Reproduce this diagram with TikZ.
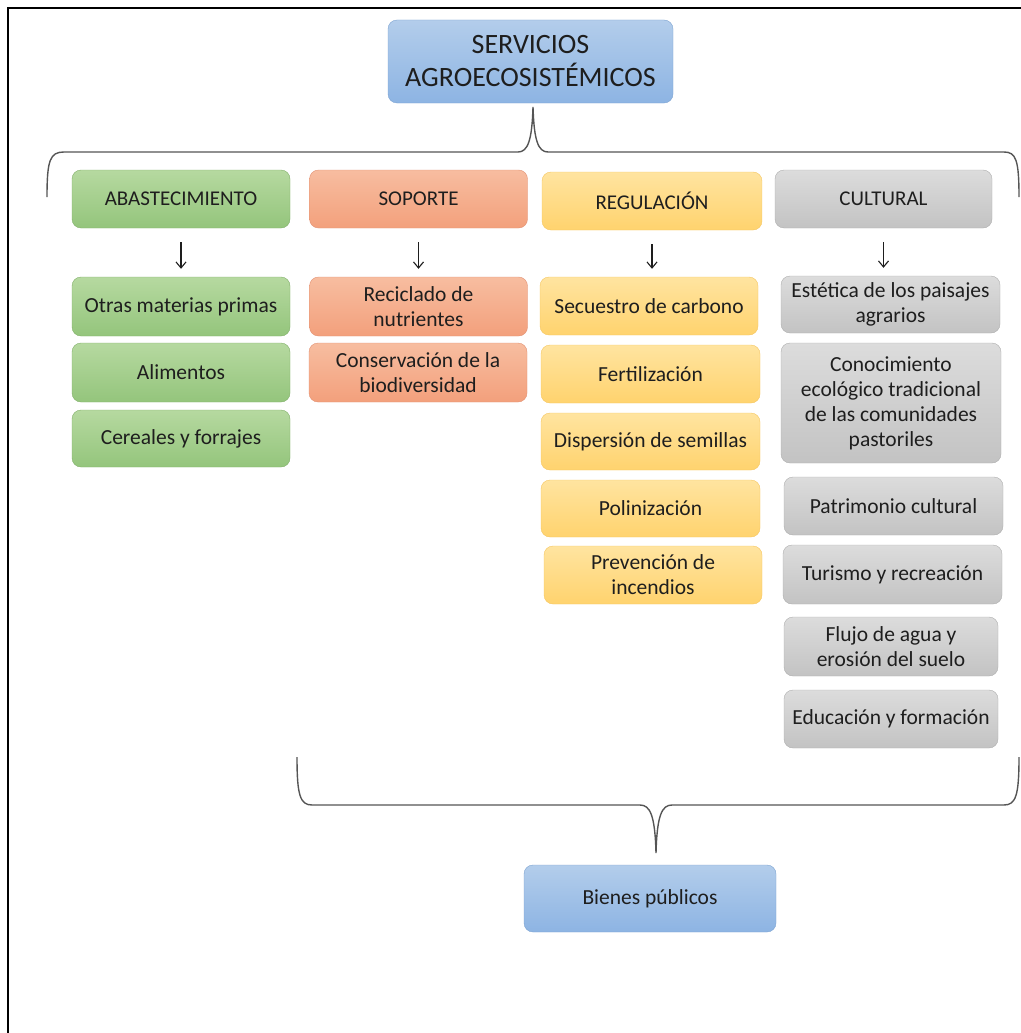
\documentclass[tikz,border=0pt]{standalone}
\usepackage{fontspec}
\setmainfont{Carlito}
\usetikzlibrary{arrows.meta}
\definecolor{azulA}{HTML}{B3CDEB}
\definecolor{azulB}{HTML}{8DB4E3}
\definecolor{azulC}{HTML}{7DA3D1}
\definecolor{verdeA}{HTML}{B6D9A0}
\definecolor{verdeB}{HTML}{94C57C}
\definecolor{verdeC}{HTML}{82B06A}
\definecolor{salmonA}{HTML}{F7BDA0}
\definecolor{salmonB}{HTML}{F3A07C}
\definecolor{salmonC}{HTML}{E29274}
\definecolor{naranjaA}{HTML}{FFE4A0}
\definecolor{naranjaB}{HTML}{FFD36E}
\definecolor{naranjaC}{HTML}{F5C661}
\definecolor{grisA}{HTML}{DCDCDC}
\definecolor{grisB}{HTML}{C3C3C3}
\definecolor{grisC}{HTML}{AEAEAE}
\definecolor{texto}{HTML}{1E1E1E}
\definecolor{llave}{HTML}{555555}
\tikzset{
    caja/.style={draw, rounded corners=9pt, inner sep=2pt, align=center,
        minimum width=218pt, minimum height=58pt, text=texto,
        font=\fontsize{21.5}{25}\selectfont},
    azul/.style={caja, top color=azulA, bottom color=azulB, draw=azulC},
    verde/.style={caja, top color=verdeA, bottom color=verdeB, draw=verdeC},
    salmon/.style={caja, top color=salmonA, bottom color=salmonB, draw=salmonC},
    naranja/.style={caja, top color=naranjaA, bottom color=naranjaB, draw=naranjaC},
    gris/.style={caja, top color=grisA, bottom color=grisB, draw=grisC},
    cabecera/.style={font=\fontsize{21}{25}\selectfont},
    flecha/.style={line width=1.1pt, texto, -{Straight Barb[length=6pt,width=10pt]},
        shorten <=14pt, shorten >=8pt},
    llaves/.style={llave, line width=1.4pt}
}

\begin{document}
\begin{tikzpicture}[x=1pt, y=-1pt]
    \useasboundingbox (0,0) rectangle (1020,1033);

    % frame
    \draw[line width=2pt] (8,1045) -- (8,8) -- (1035,8);

    % main box
    \node[azul, minimum width=285pt, minimum height=83pt,
        font=\fontsize{28}{33}\selectfont] (serv) at (530.5,61.5)
        {SERVICIOS\\AGROECOSISTÉMICOS};

    % upper brace
    \draw[llaves] (47,197) .. controls (47,160) and (50,152) .. (64,152)
        -- (518,152) .. controls (528,152) and (532,140) .. (533,107)
        .. controls (534,140) and (538,152) .. (548,152)
        -- (1004,152) .. controls (1016,152) and (1019,160) .. (1019,197);

    % column headers
    \node[verde, cabecera] (abas) at (181,199) {ABASTECIMIENTO};
    \node[salmon, cabecera] (sop) at (418.5,199) {SOPORTE};
    \node[naranja, cabecera, minimum width=220pt] (reg) at (652,201) {REGULACIÓN};
    \node[gris, cabecera, minimum width=217pt] (cult) at (883.5,199) {CULTURAL};

    % abastecimiento
    \node[verde, minimum height=59pt] (abas1) at (181,306.5) {Otras materias primas};
    \node[verde, minimum height=59pt] (abas2) at (181,372.5) {Alimentos};
    \node[verde, minimum height=57pt] (abas3) at (181,438.5) {Cereales y forrajes};

    % soporte
    \node[salmon, minimum height=59pt] (sop1) at (418.5,306.5) {Reciclado de\\nutrientes};
    \node[salmon, minimum height=59pt] (sop2) at (418,372.5) {Conservación de la\\biodiversidad};

    % regulacion
    \node[naranja] (reg1) at (649,306) {Secuestro de carbono};
    \node[naranja, minimum width=219pt] (reg2) at (650.5,374) {Fertilización};
    \node[naranja, minimum width=219pt, minimum height=57pt] (reg3) at (650.5,441.5) {Dispersión de semillas};
    \node[naranja, minimum width=219pt, minimum height=57pt] (reg4) at (650.5,508.5) {Polinización};
    \node[naranja] (reg5) at (653,575) {Prevención de\\incendios};

    % cultural
    \node[gris, minimum width=219pt, minimum height=57pt] (cult1) at (890.5,304.5) {Estética de los paisajes\\agrarios};
    \node[gris, minimum width=220pt, minimum height=120pt] (cult2) at (891,403)
        {Conocimiento\\ecológico tradicional\\de las comunidades\\pastoriles};
    \node[gris, minimum width=219pt] (cult3) at (893.5,506) {Patrimonio cultural};
    \node[gris, minimum width=219pt, minimum height=59pt] (cult4) at (892.5,574.5) {Turismo y recreación};
    \node[gris, minimum width=214pt, minimum height=59pt] (cult5) at (891,646.5) {Flujo de agua y\\erosión del suelo};
    \node[gris, minimum width=214pt] (cult6) at (891,719) {Educación y formación};

    % arrows
    \foreach \c in {abas,sop,reg,cult}
    \draw[flecha] (\c.south) -- (\c.south |- \c1.north);

    % lower brace
    \draw[llaves] (297,757) .. controls (297,795) and (300,805) .. (312,805)
        -- (640,805) .. controls (650,805) and (655,815) .. (656,853)
        .. controls (657,815) and (662,805) .. (672,805)
        -- (1004,805) .. controls (1016,805) and (1019,795) .. (1019,757);

    % result
    \node[azul, minimum width=252pt, minimum height=67pt] (bienes) at (650,898.5) {Bienes públicos};

\end{tikzpicture}
\end{document}
